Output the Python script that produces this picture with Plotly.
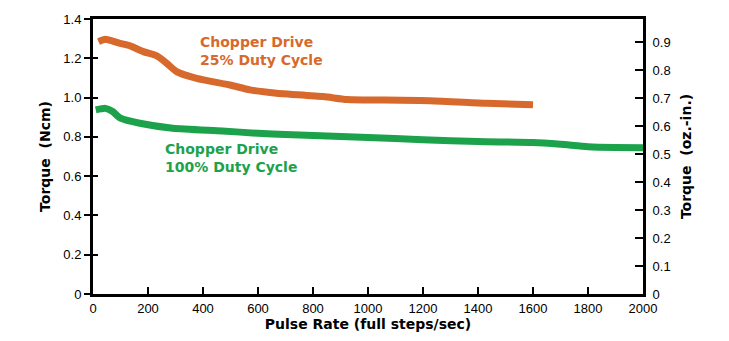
import plotly.graph_objects as go

# 25% duty cycle (Ncm)
orange_x = [20, 45, 98, 135, 183, 232, 268, 304, 377, 498, 571, 668, 716, 838, 922, 1000, 1225, 1431, 1600]
orange_y = [1.285, 1.297, 1.276, 1.263, 1.234, 1.212, 1.175, 1.132, 1.098, 1.064, 1.039, 1.022, 1.017, 1.005, 0.99, 0.988, 0.984, 0.971, 0.964]

# 100% duty cycle (Ncm)
green_x = [10, 45, 70, 100, 170, 290, 470, 600, 700, 1000, 1200, 1400, 1600, 1700, 1800, 1900, 2000]
green_y = [0.937, 0.945, 0.93, 0.895, 0.869, 0.844, 0.83, 0.818, 0.812, 0.797, 0.785, 0.776, 0.771, 0.762, 0.75, 0.746, 0.745]

left_ticks = [0, 0.2, 0.4, 0.6, 0.8, 1.0, 1.2, 1.4]
left_labels = ["0", "0.2", "0.4", "0.6", "0.8", "1.0", "1.2", "1.4"]
right_ticks = [0, 0.1, 0.2, 0.3, 0.4, 0.5, 0.6, 0.7, 0.8, 0.9]
right_labels = ["0", "0.1", "0.2", "0.3", "0.4", "0.5", "0.6", "0.7", "0.8", "0.9"]
x_ticks = [0, 200, 400, 600, 800, 1000, 1200, 1400, 1600, 1800, 2000]

ORANGE = "#D8692C"
GREEN = "#1DA24C"
FONT = "Liberation Sans, Arial, sans-serif"
BOLD = "DejaVu Sans, Verdana, sans-serif"

fig = go.Figure()
fig.add_trace(go.Scatter(x=orange_x, y=orange_y, mode="lines",
                         line=dict(color=ORANGE, width=7, shape="spline", smoothing=0.6),
                         showlegend=False))
fig.add_trace(go.Scatter(x=green_x, y=green_y, mode="lines",
                         line=dict(color=GREEN, width=7, shape="spline", smoothing=0.6),
                         showlegend=False))
# dummy traces for the extra axes
fig.add_trace(go.Scatter(x=[None], y=[None], yaxis="y2", showlegend=False))
fig.add_trace(go.Scatter(x=[None], y=[None], yaxis="y3", showlegend=False))

fig.add_annotation(x=382, y=1.235, xref="x", yref="y", xanchor="left", yanchor="middle",
                   text="<b>Chopper Drive<br>25% Duty Cycle</b>", showarrow=False, align="left",
                   font=dict(family=BOLD, size=14, color=ORANGE))
fig.add_annotation(x=255, y=0.69, xref="x", yref="y", xanchor="left", yanchor="middle",
                   text="<b>Chopper Drive<br>100% Duty Cycle</b>", showarrow=False, align="left",
                   font=dict(family=BOLD, size=14, color=GREEN))

fig.update_layout(
    width=729, height=341,
    margin=dict(l=93, r=86, t=19, b=47),
    paper_bgcolor="white", plot_bgcolor="white",
    font=dict(family=FONT, size=13, color="black"),
    xaxis=dict(range=[0, 2000], tickvals=x_ticks, ticks="inside", ticklen=7, tickwidth=2,
               tickcolor="black", showline=True, linecolor="black", linewidth=3, mirror=True,
               showgrid=False, zeroline=False,
               title=dict(text="<b>Pulse Rate (full steps/sec)</b>", font=dict(family=BOLD, size=14), standoff=2)),
    yaxis=dict(range=[0, 1.4], tickvals=left_ticks, ticktext=left_labels, ticks="outside",
               ticklen=6, tickwidth=2, tickcolor="black", showline=True, linecolor="black",
               linewidth=3, mirror=True, showgrid=False, zeroline=False,
               title=dict(text="<b>Torque  (Ncm)</b>", font=dict(family=BOLD, size=14), standoff=10)),
    yaxis3=dict(range=[0, 1.4], overlaying="y", side="left", tickvals=left_ticks,
                ticks="inside", ticklen=5, tickwidth=2, tickcolor="black", showticklabels=False,
                showline=False, showgrid=False, zeroline=False),
    yaxis2=dict(range=[0, 0.982], overlaying="y", side="right", tickvals=right_ticks,
                ticktext=right_labels, ticks="inside", ticklen=8, tickwidth=2, tickcolor="black",
                showline=True, linecolor="black", linewidth=3, showgrid=False, zeroline=False,
                ticklabelstandoff=4,
                title=dict(text="<b>Torque  (oz.-in.)</b>", font=dict(family=BOLD, size=14), standoff=12)),
)

fig.write_html("out.html")
